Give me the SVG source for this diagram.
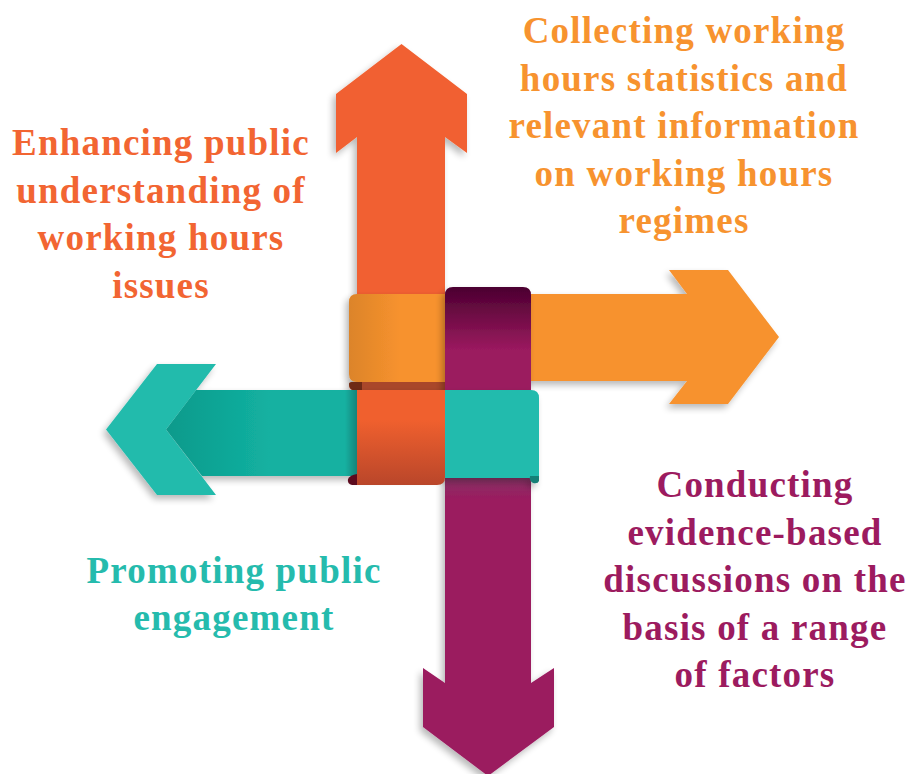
<svg xmlns="http://www.w3.org/2000/svg" width="909" height="774" viewBox="0 0 909 774">
<style>
.lbl{font-family:"Liberation Serif","Times New Roman",serif;font-weight:bold;font-size:37px;letter-spacing:1.2px;text-anchor:middle}
.red{fill:#F26532}.org{fill:#F7932F}.pur{fill:#9C1B5F}.tea{fill:#25BBAD}
</style>
<defs>
<filter id="sh" x="-20%" y="-20%" width="140%" height="140%">
<feGaussianBlur in="SourceAlpha" stdDeviation="3.5"/>
<feOffset dx="-3" dy="4" result="b"/>
<feComponentTransfer><feFuncA type="linear" slope="0.28"/></feComponentTransfer>
<feMerge><feMergeNode/><feMergeNode in="SourceGraphic"/></feMerge>
</filter>
<linearGradient id="purTop" gradientUnits="userSpaceOnUse" x1="0" y1="287" x2="0" y2="350">
<stop offset="0" stop-color="#4B0030"/><stop offset="1" stop-color="#9B1A5F"/>
</linearGradient>
<linearGradient id="orgLeft" gradientUnits="userSpaceOnUse" x1="349" y1="0" x2="400" y2="0">
<stop offset="0" stop-color="#DC8429"/><stop offset="1" stop-color="#F7922E"/>
</linearGradient>
<linearGradient id="redBot" gradientUnits="userSpaceOnUse" x1="0" y1="420" x2="0" y2="485">
<stop offset="0" stop-color="#F0602E"/><stop offset="1" stop-color="#B9462A"/>
</linearGradient>
<linearGradient id="teaShaft" gradientUnits="userSpaceOnUse" x1="166" y1="0" x2="270" y2="0">
<stop offset="0" stop-color="#0B9A8B"/><stop offset="1" stop-color="#13B1A1"/>
</linearGradient>
<linearGradient id="teaEdge" gradientUnits="userSpaceOnUse" x1="345" y1="0" x2="358" y2="0">
<stop offset="0" stop-color="#13B1A1"/><stop offset="1" stop-color="#137F77"/>
</linearGradient>
<linearGradient id="purUnder" gradientUnits="userSpaceOnUse" x1="0" y1="477" x2="0" y2="500">
<stop offset="0" stop-color="#873567"/><stop offset="1" stop-color="#9B1A5F"/>
</linearGradient>
</defs>

<g id="arrow-up" filter="url(#sh)">
<path d="M401.5,44 L467,94 L467,153 L445,137 L445,392 L357,392 L357,137 L336,153 L336,94 Z" fill="#F16130"/>
</g>

<g id="arrow-right" filter="url(#sh)">
<path d="M530,294 L687,294 L669,270 L728,270 L779,337 L728,404 L669,404 L687,381 L530,381 Z" fill="#F7922E"/>
<path d="M357,294 L530,294 L530,382 L357,382 Q349,382 349,374 L349,302 Q349,294 357,294 Z" fill="url(#orgLeft)"/>
<path d="M356,382 L445,382 L445,391 L358,391 Q349,391 349,385 Q349,382 356,382 Z" fill="#A9472A"/>
<path d="M349,384 Q349,391 357,391 L362,391 L362,382 L352,382 Q349,382 349,384 Z" fill="#6E2A12"/>
</g>

<g id="arrow-down" filter="url(#sh)">
<path d="M445,295 Q445,287 453,287 L523,287 Q531,287 531,295 L531,683 L554,668 L554,727 L488,776 L423,727 L423,668 L445,683 Z" fill="url(#purTop)"/>
<rect x="445" y="476" width="86" height="24" fill="url(#purUnder)"/>
</g>

<g id="arrow-left" filter="url(#sh)">
<path d="M166,429.5 L196,390 L450,390 L450,476 L202,476 Z" fill="url(#teaShaft)"/>
<path d="M106,429.5 L157,364 L216,364 L166,429.5 L216,495 L157,495 Z" fill="#22BBAC"/>
<rect x="345" y="390" width="13" height="86" fill="url(#teaEdge)"/>
<path d="M445,390 L531,390 Q539,390 539,398 L539,478 L445,478 Z" fill="#22BBAD"/>
<path d="M530,476 L539,476 L539,481 Q538,484 533,483 Q529,481 530,476 Z" fill="#157F76"/>
</g>

<g id="weave-red-band">
<path d="M357,390 L445,390 L445,477 Q445,485 437,485 L357,485 Z" fill="url(#redBot)"/>
<path d="M357,474 L357,485 L352,485 Q347,484 348,479 Q350,475 357,474 Z" fill="#5C0A1E"/>
</g>

<g id="labels">
<text class="lbl red" x="161" y="155">Enhancing public</text>
<text class="lbl red" x="161" y="202.5">understanding of</text>
<text class="lbl red" x="161" y="250">working hours</text>
<text class="lbl red" x="161" y="297.5">issues</text>

<text class="lbl org" x="684" y="43">Collecting working</text>
<text class="lbl org" x="684" y="90.5">hours statistics and</text>
<text class="lbl org" x="684" y="138">relevant information</text>
<text class="lbl org" x="684" y="185.5">on working hours</text>
<text class="lbl org" x="684" y="233">regimes</text>

<text class="lbl pur" x="755" y="497">Conducting</text>
<text class="lbl pur" x="755" y="544.5">evidence-based</text>
<text class="lbl pur" x="755" y="592">discussions on the</text>
<text class="lbl pur" x="755" y="639.5">basis of a range</text>
<text class="lbl pur" x="755" y="687">of factors</text>

<text class="lbl tea" x="234" y="583">Promoting public</text>
<text class="lbl tea" x="234" y="630">engagement</text>
</g>
</svg>
